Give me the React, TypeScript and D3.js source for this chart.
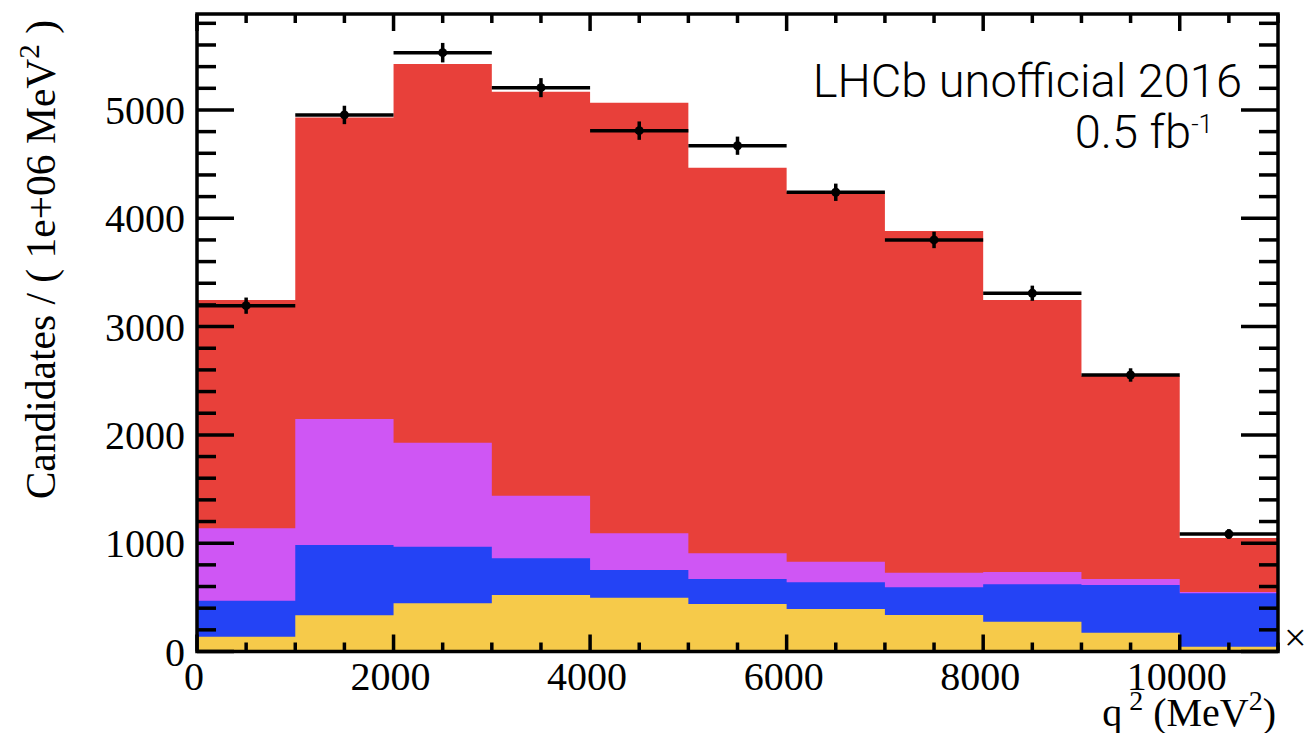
import React from "react";
import * as d3 from "d3";

// ---- data ----
const binLow = [0, 1000, 2000, 3000, 4000, 5000, 6000, 7000, 8000, 9000, 10000];
const binWidth = 1000;
const yellowComp = [137, 334, 445, 522, 497, 439, 392, 337, 275, 174, 44];
const blueComp = [332, 649, 523, 339, 256, 230, 247, 256, 345, 440, 493];
const magentaComp = [669, 1164, 960, 578, 338, 238, 190, 135, 114, 55, 12];
const redComp = [2108, 2783, 3497, 3730, 3976, 3560, 3416, 3155, 2512, 1876, 499];
const dataValues = [3193, 4954, 5529, 5206, 4809, 4670, 4240, 3800, 3308, 2553, 1085];
const dataErrors = [75, 85, 90, 88, 85, 84, 80, 76, 70, 62, 45];
const yMajorTicks = [0, 1000, 2000, 3000, 4000, 5000];
const xMajorTicks = [0, 2000, 4000, 6000, 8000, 10000];
const xMax = 11000;
const yMax = 5886;

const colors = {
  yellow: "#f6ca4a",
  blue: "#2443f5",
  magenta: "#cf56f4",
  red: "#e8403a",
};

const W = 1304;
const H = 733;
const L = 197, R = 1278, T = 14, B = 651.5;

export default function App() {
  const x = d3.scaleLinear().domain([0, xMax]).range([L, R]);
  const y = d3.scaleLinear().domain([0, yMax]).range([B, T]);

  const layers = [yellowComp, blueComp, magentaComp, redComp];
  const layerColors = [colors.yellow, colors.blue, colors.magenta, colors.red];
  const cums: number[][] = [];
  let run = binLow.map(() => 0);
  layers.forEach((comp) => {
    run = run.map((v, i) => v + comp[i]);
    cums.push(run.slice());
  });

  const area = d3
    .area<{ x: number; y: number }>()
    .x((d) => x(d.x))
    .y0(y(0))
    .y1((d) => y(d.y))
    .curve(d3.curveStepAfter);

  const stepPts = (cum: number[]) => {
    const pts = binLow.map((b, i) => ({ x: b, y: cum[i] }));
    pts.push({ x: binLow[binLow.length - 1] + binWidth, y: cum[cum.length - 1] });
    return pts;
  };

  const yMinor = d3.range(0, yMax, 200).filter((v) => v % 1000 !== 0);
  const xMinor = d3.range(0, xMax + 1, 500).filter((v) => v % 2000 !== 0);

  const serif = "'Liberation Serif', 'Times New Roman', serif";
  const sans = "Roboto, 'Liberation Sans', sans-serif";
  const tw = 3.5;

  return (
    <svg
      width={W}
      height={H}
      style={{ position: "absolute", left: 0, top: 0, background: "#fff" }}
    >
      <defs>
        <clipPath id="plotclip">
          <rect x={L} y={T} width={R - L} height={B - T} />
        </clipPath>
      </defs>
      <g clipPath="url(#plotclip)">
        {[3, 2, 1, 0].map((li) => (
          <path key={li} d={area(stepPts(cums[li])) || ""} fill={layerColors[li]} />
        ))}
      </g>

      {/* data points */}
      <g stroke="#000" strokeWidth={3.5}>
        {dataValues.map((v, i) => {
          const cx = x(binLow[i] + binWidth / 2);
          return (
            <g key={i}>
              <line x1={x(binLow[i])} x2={x(binLow[i] + binWidth)} y1={y(v)} y2={y(v)} />
              <line x1={cx} x2={cx} y1={y(v - dataErrors[i])} y2={y(v + dataErrors[i])} />
              <circle cx={cx} cy={y(v)} r={4.5} fill="#000" stroke="none" />
            </g>
          );
        })}
      </g>

      {/* ticks */}
      <g stroke="#000" strokeWidth={tw}>
        {yMajorTicks.map((t) => (
          <g key={"ym" + t}>
            <line x1={L} x2={L + 37} y1={y(t)} y2={y(t)} />
            <line x1={R} x2={R - 37} y1={y(t)} y2={y(t)} />
          </g>
        ))}
        {yMinor.map((t) => (
          <g key={"yn" + t}>
            <line x1={L} x2={L + 19} y1={y(t)} y2={y(t)} />
            <line x1={R} x2={R - 19} y1={y(t)} y2={y(t)} />
          </g>
        ))}
        {xMajorTicks.map((t) => (
          <g key={"xm" + t}>
            <line x1={x(t)} x2={x(t)} y1={B} y2={B - 17} />
            <line x1={x(t)} x2={x(t)} y1={T} y2={T + 17} />
          </g>
        ))}
        {xMinor.map((t) => (
          <g key={"xn" + t}>
            <line x1={x(t)} x2={x(t)} y1={B} y2={B - 9} />
            <line x1={x(t)} x2={x(t)} y1={T} y2={T + 9} />
          </g>
        ))}
      </g>

      {/* frame */}
      <rect x={L} y={T} width={R - L} height={B - T} fill="none" stroke="#000" strokeWidth={tw} />

      {/* y tick labels */}
      <g fontFamily={serif} fontSize={40} fill="#000" textAnchor="end">
        {yMajorTicks.map((t) => (
          <text key={t} x={185} y={y(t) + 14}>
            {t}
          </text>
        ))}
      </g>
      {/* x tick labels */}
      <g fontFamily={serif} fontSize={40} fill="#000" textAnchor="middle">
        {xMajorTicks.map((t) => (
          <text key={t} x={x(t) - 3} y={690}>
            {t}
          </text>
        ))}
      </g>

      {/* axis titles */}
      <text
        transform="translate(55,20) rotate(-90)"
        textAnchor="end"
        fontFamily={serif}
        fontSize={41.5}
        fill="#000"
      >
        Candidates / ( 1e+06 MeV
        <tspan fontSize={29} dy={-16}>2</tspan>
        <tspan dy={16}> )</tspan>
      </text>
      <text x={1276} y={726} textAnchor="end" fontFamily={serif} fontSize={40} fill="#000">
        q<tspan fontSize={28} dy={-16}> 2</tspan>
        <tspan dy={16}> (MeV</tspan>
        <tspan fontSize={28} dy={-16}>2</tspan>
        <tspan dy={16}>)</tspan>
      </text>
      <text x={1284} y={651} fontFamily={serif} fontSize={40} fill="#000">
        ×
      </text>

      {/* label */}
      <text x={1242} y={97} textAnchor="end" fontFamily={sans} fontWeight={300} fontSize={47} fill="#000">
        LHCb unofficial 2016
      </text>
      <text x={1213} y={148} textAnchor="end" fontFamily={sans} fontWeight={300} fontSize={47} fill="#000">
        0.5 fb<tspan fontSize={26} dy={-15}>-1</tspan>
      </text>
    </svg>
  );
}
